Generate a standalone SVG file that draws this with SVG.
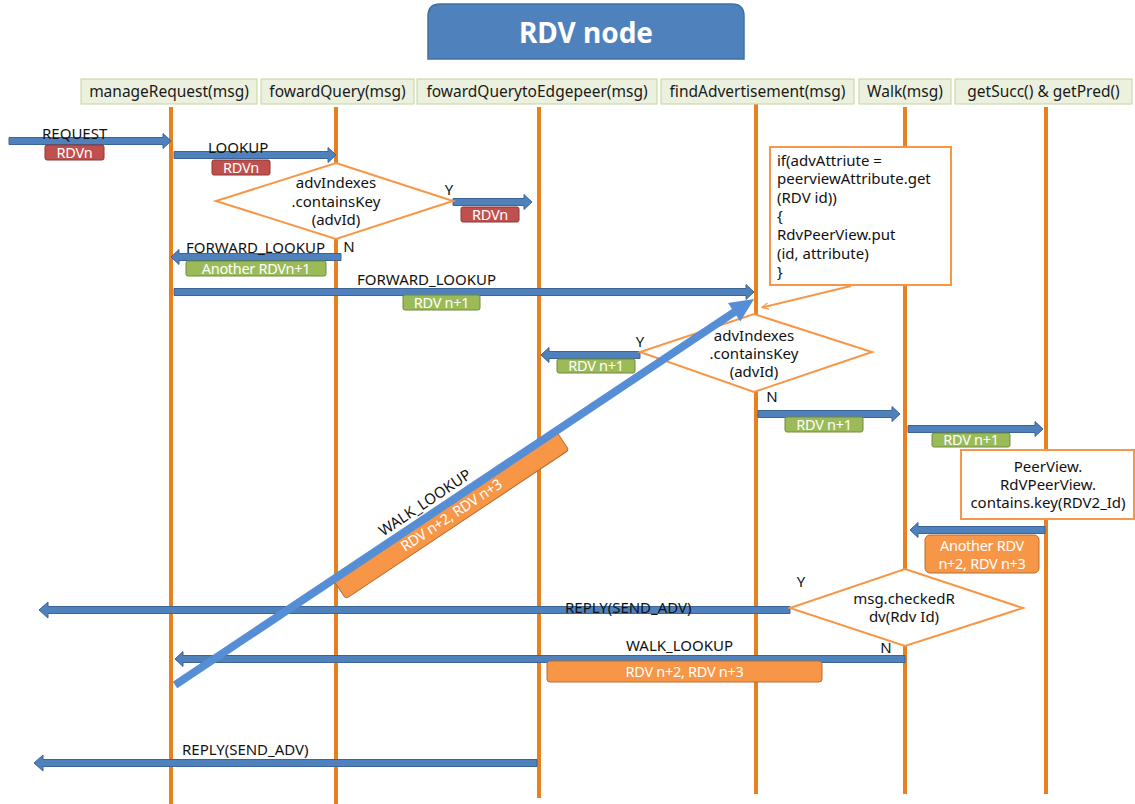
<svg xmlns="http://www.w3.org/2000/svg" width="1135" height="804" viewBox="0 0 1135 804">
<defs>
<style>
text { font-family: "Noto Sans", "Liberation Sans", sans-serif; }
.hdr { fill: #ebf1de; stroke: #c3d69b; stroke-width: 1; }
.ht { font-size: 15.5px; fill: #1a1a1a; text-anchor: middle; }
.life { stroke: #e8801f; stroke-width: 4; }
.arr { fill: #4f81bd; stroke: #3b6497; stroke-width: 1; }
.lbl { font-size: 15px; fill: #111; }
.mid { text-anchor: middle; }
.red { fill: #c0504d; stroke: #8c3836; stroke-width: 1; }
.grn { fill: #9bbb59; stroke: #71893f; stroke-width: 1; }
.org { fill: #f79646; stroke: #b66d31; stroke-width: 1; }
.wt { font-size: 14.5px; fill: #fff; text-anchor: middle; letter-spacing: -0.3px; }
.dia { fill: #fff; stroke: #f79646; stroke-width: 2; }
.note { fill: #fff; stroke: #f79646; stroke-width: 2; }
</style>
<marker id="oh" viewBox="0 0 10 10" refX="9" refY="5" markerWidth="8" markerHeight="8" orient="auto" markerUnits="userSpaceOnUse">
<path d="M1,1 L9,5 L1,9" fill="none" stroke="#f79646" stroke-width="1.5"/>
</marker>
</defs>
<rect width="1135" height="804" fill="#fff"/>

<g id="title">
<path d="M428,59 V16 Q428,4 440,4 H732 Q744,4 744,16 V59 Z" fill="#4f81bd" stroke="#41719c" stroke-width="1.5"/>
<text x="586" y="43" font-size="28" font-weight="bold" fill="#fff" text-anchor="middle">RDV node</text>
</g>

<g id="lifelines">
<line class="life" x1="171" y1="107" x2="171" y2="804"/>
<line class="life" x1="336" y1="107" x2="336" y2="804"/>
<line class="life" x1="539" y1="107" x2="539" y2="798"/>
<line class="life" x1="756" y1="104" x2="756" y2="794"/>
<line class="life" x1="905" y1="107" x2="905" y2="794"/>
<line class="life" x1="1046" y1="107" x2="1046" y2="794"/>
</g>

<g id="header-manageRequest"><rect class="hdr" x="81" y="79" width="176" height="25"/><text class="ht" x="169" y="97">manageRequest(msg)</text></g>
<g id="header-fowardQuery"><rect class="hdr" x="261" y="79" width="153" height="25"/><text class="ht" x="337.5" y="97">fowardQuery(msg)</text></g>
<g id="header-fowardQuerytoEdgepeer"><rect class="hdr" x="417" y="79" width="240" height="25"/><text class="ht" x="537" y="97">fowardQuerytoEdgepeer(msg)</text></g>
<g id="header-findAdvertisement"><rect class="hdr" x="661" y="79" width="193" height="25"/><text class="ht" x="757.5" y="97">findAdvertisement(msg)</text></g>
<g id="header-walk"><rect class="hdr" x="859" y="79" width="92" height="25"/><text class="ht" x="905" y="97">Walk(msg)</text></g>
<g id="header-getSucc"><rect class="hdr" x="955" y="79" width="177" height="25"/><text class="ht" x="1043.5" y="97">getSucc() &amp; getPred()</text></g>

<g id="connectors">
<polygon class="arr" points="9,137.5 163,137.5 163,133.5 171,141 163,148.5 163,144.5 9,144.5"/>
<polygon class="arr" points="174,151.5 328,151.5 328,147.5 336,155 328,162.5 328,158.5 174,158.5"/>
<polygon class="arr" points="453,198.5 524,198.5 524,194.5 532,202 524,209.5 524,205.5 453,205.5"/>
<polygon class="arr" points="341,253.5 179,253.5 179,249.5 171,257 179,264.5 179,260.5 341,260.5"/>
<polygon class="arr" points="174,288.5 746,288.5 746,284.5 754,292 746,299.5 746,295.5 174,295.5"/>
<polygon class="arr" points="640,351.5 549,351.5 549,347.5 541,355 549,362.5 549,358.5 640,358.5"/>
<polygon class="arr" points="758,410.5 892,410.5 892,406.5 900,414 892,421.5 892,417.5 758,417.5"/>
<polygon class="arr" points="908,425.5 1035,425.5 1035,421.5 1043,429 1035,436.5 1035,432.5 908,432.5"/>
<polygon class="arr" points="1045,526.5 918,526.5 918,522.5 910,530 918,537.5 918,533.5 1045,533.5"/>
<polygon class="arr" points="790,606.5 48,606.5 48,602 39,610 48,618 48,613.5 790,613.5"/>
<polygon class="arr" points="905,655.5 183,655.5 183,651.5 175,659 183,666.5 183,662.5 905,662.5"/>
<polygon class="arr" points="537,759.5 43,759.5 43,755 34,763 43,771 43,766.5 537,766.5"/>
<line x1="851" y1="286" x2="762" y2="307.5" stroke="#f79646" stroke-width="2" marker-end="url(#oh)"/>

<text class="lbl" x="42" y="139">REQUEST</text>
<text class="lbl" x="208" y="153">LOOKUP</text>
<text class="lbl" x="186" y="253">FORWARD_LOOKUP</text>
<text class="lbl" x="357" y="285">FORWARD_LOOKUP</text>
<text class="lbl" x="565" y="613">REPLY(SEND_ADV)</text>
<text class="lbl" x="626" y="651">WALK_LOOKUP</text>
<text class="lbl" x="182" y="755">REPLY(SEND_ADV)</text>

<rect class="red" x="45" y="145" width="59" height="15" rx="2"/><text class="wt" x="74.5" y="158">RDVn</text>
<rect class="red" x="212" y="160" width="58" height="15" rx="2"/><text class="wt" x="241" y="173">RDVn</text>
<rect class="red" x="461" y="207" width="58" height="15" rx="2"/><text class="wt" x="490" y="220">RDVn</text>
<rect class="grn" x="186" y="261" width="140" height="15" rx="2"/><text class="wt" x="256" y="274">Another RDVn+1</text>
<rect class="grn" x="403" y="295" width="77" height="15" rx="2"/><text class="wt" x="441.5" y="308">RDV n+1</text>
<rect class="grn" x="557" y="359" width="78" height="14" rx="2"/><text class="wt" x="596" y="371">RDV n+1</text>
<rect class="grn" x="785" y="417" width="78" height="15" rx="2"/><text class="wt" x="824" y="430">RDV n+1</text>
<rect class="grn" x="932" y="433" width="78" height="14" rx="2"/><text class="wt" x="971" y="445">RDV n+1</text>
<rect class="org" x="925" y="535" width="114" height="38" rx="5"/>
<text class="wt" x="982" y="551">Another RDV</text><text class="wt" x="982" y="569">n+2, RDV n+3</text>
<rect class="org" x="547" y="661" width="275" height="21" rx="3"/><text class="wt" x="684.5" y="677">RDV n+2, RDV n+3</text>
</g>

<g id="decision-1">
<polygon class="dia" points="336,163 453,201 336,239 216,201"/>
<text class="lbl mid" x="336" y="188">advIndexes</text>
<text class="lbl mid" x="336" y="207">.containsKey</text>
<text class="lbl mid" x="336" y="225">(advId)</text>
<text class="lbl mid" x="449" y="195">Y</text>
<text class="lbl mid" x="349" y="252">N</text>
</g>

<g id="note-advAttribute">
<rect class="note" x="770" y="147" width="181" height="138"/>
<text class="lbl" x="777" y="166">if(advAttriute =</text>
<text class="lbl" x="777" y="184">peerviewAttribute.get</text>
<text class="lbl" x="777" y="203">(RDV id))</text>
<text class="lbl" x="777" y="221">{</text>
<text class="lbl" x="777" y="240">RdvPeerView.put</text>
<text class="lbl" x="777" y="259">(id, attribute)</text>
<text class="lbl" x="777" y="277">}</text>
</g>

<g id="decision-2">
<polygon class="dia" points="754,314 872,352 754,392 640,352"/>
<text class="lbl mid" x="754" y="341">advIndexes</text>
<text class="lbl mid" x="754" y="359">.containsKey</text>
<text class="lbl mid" x="754" y="377">(advId)</text>
<text class="lbl mid" x="640" y="347">Y</text>
<text class="lbl mid" x="772" y="402">N</text>
</g>

<g id="note-peerview">
<rect class="note" x="961" y="450" width="173" height="69"/>
<text class="lbl mid" x="1048" y="472">PeerView.</text>
<text class="lbl mid" x="1048" y="490">RdVPeerView.</text>
<text class="lbl mid" x="1048" y="508">contains.key(RDV2_Id)</text>
</g>

<g id="decision-3">
<polygon class="dia" points="905,569 1023,608 905,646 790,608"/>
<text class="lbl mid" x="904" y="604">msg.checkedR</text>
<text class="lbl mid" x="904" y="622">dv(Rdv Id)</text>
<text class="lbl mid" x="801" y="587">Y</text>
<text class="lbl mid" x="886" y="653">N</text>
</g>

<g id="walk-lookup-diagonal" transform="translate(175,685) rotate(-33.69)">
<rect class="org" x="190" y="1" width="268" height="22" rx="3"/>
<text class="wt" x="324" y="17">RDV n+2, RDV n+3</text>
<line x1="0" y1="0" x2="676" y2="0" stroke="#558ed5" stroke-width="8"/>
<polygon points="672,-11 696,0 672,11" fill="#558ed5"/>
<text class="lbl mid" x="309" y="-8">WALK_LOOKUP</text>
</g>
</svg>
